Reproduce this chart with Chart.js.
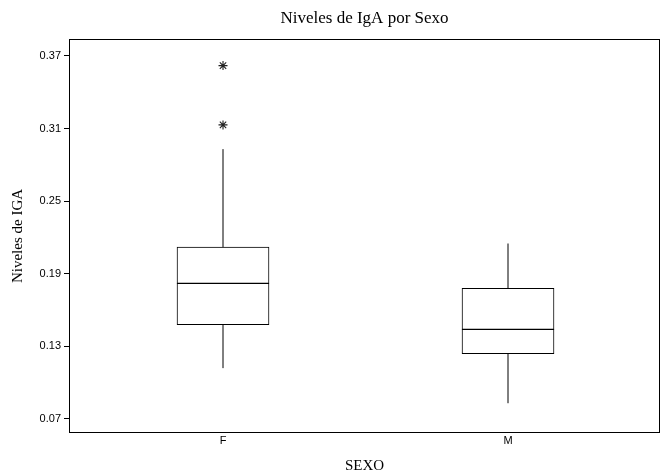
<!DOCTYPE html>
<html>
<head>
<meta charset="utf-8">
<script src="https://cdn.jsdelivr.net/npm/chart.js@4/dist/chart.umd.min.js"></script>
<style>html,body{margin:0;padding:0;background:#fff;}canvas{display:block;}</style>
</head>
<body>
<canvas id="c" width="662" height="476"></canvas>
<script>
const categories = ['F', 'M'];
const whiskerLow = [0.112, 0.083];
const q1 = [0.148, 0.124];
const median = [0.182, 0.144];
const q3 = [0.212, 0.178];
const whiskerHigh = [0.293, 0.215];
const outliers = [[0.313, 0.362], []];
const yTicks = [0.07, 0.13, 0.19, 0.25, 0.31, 0.37];

const pos = categories.map((c, i) => i + 1);

const lowerBox = pos.map((x, i) => ({x: x, y: [q1[i], median[i]]}));
const upperBox = pos.map((x, i) => ({x: x, y: [median[i], q3[i]]}));
const whiskers = [];
pos.forEach((x, i) => {
  whiskers.push({x: x, y: q3[i]}, {x: x, y: whiskerHigh[i]}, {x: x, y: null});
  whiskers.push({x: x, y: whiskerLow[i]}, {x: x, y: q1[i]}, {x: x, y: null});
});
const outlierPts = [];
pos.forEach((x, i) => outliers[i].forEach(v => outlierPts.push({x: x, y: v})));

const frame = {
  id: 'frame',
  afterDraw(chart) {
    const a = chart.chartArea, ctx = chart.ctx;
    ctx.save();
    ctx.strokeStyle = '#000';
    ctx.lineWidth = 1;
    ctx.strokeRect(Math.round(a.left) + 0.5, Math.round(a.top) + 0.5,
      Math.round(a.right - a.left) - 1, Math.round(a.bottom - a.top) - 1);
    ctx.restore();
  }
};

const serif = 'Liberation Serif';
const sans = 'Liberation Sans';

new Chart(document.getElementById('c'), {
  type: 'bar',
  data: {
    datasets: [
      {type: 'line', data: whiskers, borderColor: '#000', borderWidth: 1, pointRadius: 0, spanGaps: false, fill: false},
      {data: lowerBox, backgroundColor: '#fff', borderColor: '#000', borderWidth: 1, borderSkipped: false, barThickness: 92, grouped: false},
      {data: upperBox, backgroundColor: '#fff', borderColor: '#000', borderWidth: 1, borderSkipped: false, barThickness: 92, grouped: false},
      {type: 'line', data: outlierPts, showLine: false, pointStyle: 'star', pointRadius: 4.5, pointBorderWidth: 1.1, pointBorderColor: '#222', pointBackgroundColor: '#222'}
    ]
  },
  options: {
    responsive: false,
    devicePixelRatio: 1,
    animation: false,
    layout: {autoPadding: false, padding: {left: 0, right: 2, top: 0, bottom: 0}},
    plugins: {
      legend: {display: false},
      tooltip: {enabled: false},
      title: {
        display: true,
        text: 'Niveles de IgA por Sexo',
        fullSize: false,
        color: '#000',
        font: {family: serif, size: 17, weight: 'normal', lineHeight: 1.2},
        padding: {top: 8, bottom: 10.6}
      }
    },
    scales: {
      x: {
        type: 'linear',
        offset: false,
        min: 0.4596,
        max: 2.5333,
        afterBuildTicks: s => { s.ticks = pos.map(v => ({value: v})); },
        afterFit: s => { s.height = 43; s.paddingLeft = 0; s.paddingRight = 0; },
        grid: {display: false, drawTicks: false},
        border: {display: false},
        ticks: {
          color: '#000',
          font: {family: sans, size: 11},
          padding: 1,
          maxRotation: 0,
          callback: v => categories[v - 1]
        },
        title: {
          display: true,
          text: 'SEXO',
          color: '#000',
          font: {family: serif, size: 15, lineHeight: 1.2},
          padding: {top: 0, bottom: 1}
        }
      },
      y: {
        min: 0.0584,
        max: 0.384,
        afterBuildTicks: s => { s.ticks = yTicks.map(v => ({value: v})); },
        afterFit: s => { s.width = 69; },
        grid: {drawOnChartArea: false, drawTicks: true, tickLength: 5, color: '#000'},
        border: {display: false},
        ticks: {
          color: '#000',
          font: {family: sans, size: 11},
          padding: 3,
          callback: v => v.toFixed(2)
        },
        title: {
          display: true,
          text: 'Niveles de IGA',
          color: '#000',
          font: {family: serif, size: 15, lineHeight: 1.2},
          padding: {top: 9, bottom: 0}
        }
      }
    }
  },
  plugins: [frame]
});
</script>
</body>
</html>
